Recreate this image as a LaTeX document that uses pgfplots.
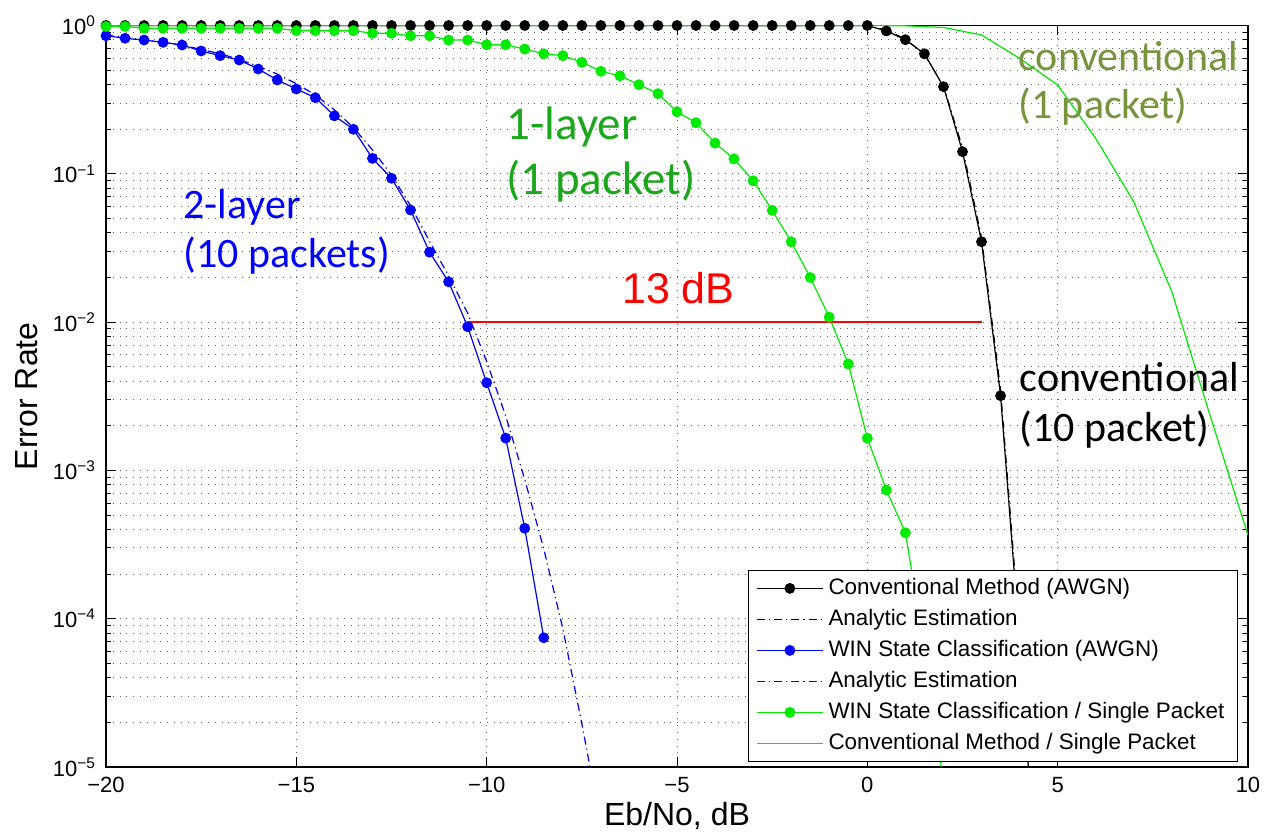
\documentclass[border=0pt]{standalone}
\usepackage{fontspec}
\setmainfont{Liberation Sans}
\newfontfamily\cali{Carlito}
\usepackage{pgfplots}
\pgfplotsset{compat=1.18}
\definecolor{mblue}{RGB}{0,0,255}
\definecolor{mgreen}{RGB}{0,235,0}
\definecolor{txtgreen}{RGB}{26,168,26}
\definecolor{olivetxt}{RGB}{119,147,60}
\begin{document}
\begin{tikzpicture}
\useasboundingbox (-53pt,-35.5pt) rectangle (579pt,383.5pt);
\begin{axis}[
  at={(0,0)}, anchor=south west,
  scale only axis, width=571pt, height=370.75pt,
  xmin=-20, xmax=10, ymin=1e-5, ymax=1, ymode=log,
  xtick={-20,-15,-10,-5,0,5,10},
  xticklabels={−20,−15,−10,−5,0,5,10},
  ytick={1e-5,1e-4,1e-3,1e-2,1e-1,1},
  yticklabels={10\textsuperscript{−5},10\textsuperscript{−4},10\textsuperscript{−3},10\textsuperscript{−2},10\textsuperscript{−1},10\textsuperscript{0}},
  minor ytick={2e-5,3e-5,4e-5,5e-5,6e-5,7e-5,8e-5,9e-5,2e-4,3e-4,4e-4,5e-4,6e-4,7e-4,8e-4,9e-4,2e-3,3e-3,4e-3,5e-3,6e-3,7e-3,8e-3,9e-3,2e-2,3e-2,4e-2,5e-2,6e-2,7e-2,8e-2,9e-2,0.2,0.3,0.4,0.5,0.6,0.7,0.8,0.9},
  tick label style={font=\fontsize{11}{13}\selectfont},
  xticklabel style={yshift=-1.5pt},
  yticklabel style={xshift=-1.5pt},
  tick align=inside, tick pos=both,
  major tick length=5pt, minor tick length=2.5pt,
  tick style={black, line width=0.5pt},
  axis line style={line width=0.7pt},
  grid=both,
  major grid style={black!60, line width=0.5pt, dash pattern=on 0.5pt off 2.9pt},
  minor grid style={black!60, line width=0.5pt, dash pattern=on 0.5pt off 2.9pt},
  xlabel={Eb/No, dB},
  ylabel={Error Rate},
  every axis x label/.style={at={(axis description cs:0.5,0)}, anchor=base, yshift=-29pt, font=\fontsize{16}{19}\selectfont},
  every axis y label/.style={at={(axis description cs:-0.0694,0.5)}, rotate=90, anchor=center, font=\fontsize{16}{19}\selectfont},
  legend style={at={(rel axis cs:1,0)}, anchor=south east, xshift=-5pt, yshift=2.5pt,
    draw=black, line width=0.6pt, fill=white, inner xsep=4pt, inner ysep=1.25pt,
    font=\fontsize{11.2}{13}\selectfont,
    nodes={inner ysep=1.5pt, inner xsep=2.5pt, text height=9.3pt, text depth=3.2pt}},
  legend cell align=left,
  legend image code/.code={\draw[mark repeat=2,mark phase=2] plot coordinates {(0pt,0pt) (16.5pt,0pt) (33pt,0pt)};},
]
% Conventional Method (AWGN)
\addplot[black, line width=0.6pt, mark=*, mark size=2.4pt, mark options={solid, fill=black}] coordinates {
(-20,1)(-19.5,1)(-19,1)(-18.5,1)(-18,1)(-17.5,1)(-17,1)(-16.5,1)(-16,1)(-15.5,1)
(-15,1)(-14.5,1)(-14,1)(-13.5,1)(-13,1)(-12.5,1)(-12,1)(-11.5,1)(-11,1)(-10.5,1)
(-10,1)(-9.5,1)(-9,1)(-8.5,1)(-8,1)(-7.5,1)(-7,1)(-6.5,1)(-6,1)(-5.5,1)
(-5,1)(-4.5,1)(-4,1)(-3.5,1)(-3,1)(-2.5,1)(-2,1)(-1.5,1)(-1,1)(-0.5,1)
(0,1)(0.5,0.918)(1,0.802)(1.5,0.645)(2,0.387)(2.5,0.141)(3,0.0348)(3.5,0.00319)(4,7e-5)(4.5,1e-6)};
\addlegendentry{Conventional Method (AWGN)}
% Analytic (black)
\addplot[black, line width=0.6pt, dash pattern=on 4pt off 2pt on 0.6pt off 2pt] coordinates {
(-20,1)(-15,1)(-10,1)(-5,1)(0,1)(0.5,0.93)(1,0.81)(1.5,0.64)(2,0.39)(2.5,0.15)(3,0.037)(3.5,0.0035)(4,8e-5)(4.5,1e-6)};
\addlegendentry{Analytic Estimation}
% WIN State Classification (AWGN)
\addplot[mblue, line width=0.6pt, mark=*, mark size=2.4pt, mark options={solid, fill=mblue}] coordinates {
(-20,0.853)(-19.5,0.820)(-19,0.798)(-18.5,0.770)(-18,0.739)(-17.5,0.673)(-17,0.626)(-16.5,0.585)
(-16,0.509)(-15.5,0.429)(-15,0.373)(-14.5,0.326)(-14,0.246)(-13.5,0.1995)(-13,0.127)(-12.5,0.0933)
(-12,0.0570)(-11.5,0.0296)(-11,0.0187)(-10.5,0.00931)(-10,0.0039)(-9.5,0.00165)(-9,0.000407)(-8.5,7.44e-5)};
\addlegendentry{WIN State Classification (AWGN)}
% Analytic (blue)
\addplot[mblue, line width=0.6pt, dash pattern=on 4pt off 2pt on 0.6pt off 2pt] coordinates {
(-20,0.86)(-19.5,0.83)(-19,0.80)(-18.5,0.77)(-18,0.735)(-17.5,0.69)(-17,0.645)(-16.5,0.59)
(-16,0.53)(-15.5,0.47)(-15,0.405)(-14.5,0.34)(-14,0.27)(-13.5,0.205)(-13,0.145)(-12.5,0.098)
(-12,0.061)(-11.5,0.035)(-11,0.0205)(-10.5,0.0115)(-10,0.00542)(-9.5,0.00233)(-9,0.00087)
(-8.5,0.000296)(-8,8.6e-5)(-7.5,1.96e-5)(-7,4.1e-6)};
\addlegendentry{Analytic Estimation}
% WIN State Classification / Single Packet
\addplot[mgreen, line width=0.6pt, mark=*, mark size=2.4pt, mark options={solid, fill=mgreen}] coordinates {
(-20,0.985)(-19.5,0.985)(-19,0.957)(-18.5,0.957)(-18,0.957)(-17.5,0.957)(-17,0.957)(-16.5,0.957)
(-16,0.957)(-15.5,0.957)(-15,0.923)(-14.5,0.923)(-14,0.923)(-13.5,0.923)(-13,0.886)(-12.5,0.886)
(-12,0.853)(-11.5,0.853)(-11,0.798)(-10.5,0.798)(-10,0.742)(-9.5,0.742)(-9,0.694)(-8.5,0.645)
(-8,0.626)(-7.5,0.565)(-7,0.491)(-6.5,0.458)(-6,0.399)(-5.5,0.347)(-5,0.262)(-4.5,0.221)
(-4,0.161)(-3.5,0.126)(-3,0.0897)(-2.5,0.0567)(-2,0.0348)(-1.5,0.0200)(-1,0.0108)(-0.5,0.00522)
(0,0.00165)(0.5,0.000738)(1,0.00038)(1.5,6.3e-5)(2,8e-6)};
\addlegendentry{WIN State Classification / Single Packet}
% Conventional Method / Single Packet
\addplot[mgreen, line width=0.6pt] coordinates {
(-20,1)(-15,1)(-10,1)(-5,1)(0,1)(1,0.995)(2,0.97)(3,0.863)(4,0.60)(5,0.397)(6,0.173)(7,0.0648)(8,0.016)(9,0.00236)(10,0.000366)};
\addlegendentry{Conventional Method / Single Packet}
% 13 dB line
\addplot[red, line width=0.6pt, forget plot] coordinates {(-10.5,0.01)(3,0.01)};
% annotations
\node[anchor=base west, inner sep=0, text=mblue, font=\cali\fontsize{21}{25}\selectfont] at (axis cs:-17.97,0.0503) {2-layer};
\node[anchor=base west, inner sep=0, text=mblue, font=\cali\fontsize{21}{25}\selectfont] at (axis cs:-17.97,0.0232) {(10 packets)};
\node[anchor=base west, inner sep=0, text=txtgreen, font=\cali\fontsize{23.5}{28}\selectfont] at (axis cs:-9.49,0.169) {1-layer};
\node[anchor=base west, inner sep=0, text=txtgreen, font=\cali\fontsize{23.5}{28}\selectfont] at (axis cs:-9.49,0.0720) {(1 packet)};
\node[anchor=base west, inner sep=0, text=red, font=\fontsize{21.5}{26}\selectfont] at (axis cs:-6.45,0.01339) {13 dB};
\node[anchor=base west, inner sep=0, text=olivetxt, font=\cali\fontsize{21}{25}\selectfont] at (axis cs:3.96,0.501) {conventional};
\node[anchor=base west, inner sep=0, text=olivetxt, font=\cali\fontsize{21}{25}\selectfont] at (axis cs:3.96,0.2378) {(1 packet)};
\node[anchor=base west, inner sep=0, text=black, font=\cali\fontsize{21}{25}\selectfont] at (axis cs:3.99,0.0034) {conventional};
\node[anchor=base west, inner sep=0, text=black, font=\cali\fontsize{21}{25}\selectfont] at (axis cs:3.99,0.00156) {(10 packet)};
\end{axis}
\end{tikzpicture}
\end{document}
